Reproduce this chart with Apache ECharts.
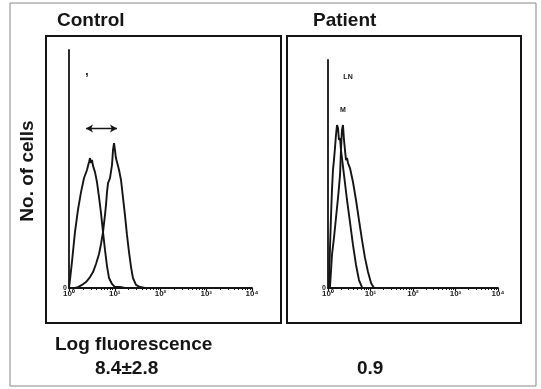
<!DOCTYPE html>
<html>
<head>
<meta charset="utf-8">
<script src="https://cdn.jsdelivr.net/npm/echarts@6/dist/echarts.min.js"></script>
<style>
html, body { margin: 0; padding: 0; background: #fff; }
#chart { width: 541px; height: 389px; }
</style>
</head>
<body>
<div id="chart"></div>
<script>
// log axis tick labels (10^0 .. 10^4)
var tickLabels = ['10\u2070', '10\u00b9', '10\u00b2', '10\u00b3', '10\u2074'];
var panelTitles = ['Control', 'Patient'];
var panelValues = ['8.4\u00b12.8', '0.9'];

// Control panel - left peak
var ctrlAX = [1.0, 1.05, 1.16, 1.35, 1.57, 1.83, 2.13, 2.47, 2.74, 2.88, 3.02, 3.18, 3.35, 3.70, 4.09, 4.53, 5.01, 5.54, 6.12, 6.77, 7.49, 8.71, 10.1, 13.0, 16.7];
var ctrlAY = [0, 3.4, 10.9, 23.5, 32.8, 40.3, 46.2, 49.6, 52.9, 54.6, 52.5, 53.8, 51.3, 48.7, 44.5, 38.2, 31.5, 23.5, 16.0, 9.2, 4.2, 1.7, 0.4, 0.4, 0];
// Control panel - right peak
var ctrlBX = [1.35, 1.57, 1.92, 2.35, 2.88, 3.35, 3.89, 4.53, 5.01, 5.54, 6.12, 6.44, 6.77, 7.13, 7.87, 8.71, 9.16, 9.64, 10.1, 10.6, 11.2, 12.4, 13.7, 15.1, 16.7, 18.5, 20.5, 22.7, 25.0, 29.1, 35.7, 45.8];
var ctrlBY = [0, 0.4, 1.3, 2.5, 4.6, 6.7, 10.1, 14.3, 18.5, 23.5, 30.7, 34.9, 40.3, 44.1, 46.2, 51.7, 58.0, 60.9, 58.0, 54.6, 52.9, 49.6, 45.4, 38.2, 30.7, 22.3, 15.1, 8.8, 4.2, 1.3, 0.4, 0];

// Patient panel - left peak
var patAX = [1.05, 1.11, 1.18, 1.24, 1.31, 1.38, 1.46, 1.54, 1.63, 1.72, 1.81, 1.92, 2.02, 2.38, 2.80, 3.29, 3.87, 4.56, 5.36, 6.31];
var patAY = [0, 16.7, 32.0, 43.0, 51.8, 56.1, 61.4, 67.1, 71.5, 70.2, 64.9, 65.8, 60.5, 49.6, 38.6, 28.9, 18.9, 10.1, 3.5, 0.4];
// Patient panel - right peak
var patBX = [1.11, 1.18, 1.24, 1.38, 1.54, 1.72, 1.92, 2.02, 2.13, 2.25, 2.38, 2.51, 2.65, 2.80, 2.96, 3.29, 3.87, 4.56, 5.36, 6.31, 7.42, 8.74, 10.3, 12.1];
var patBY = [0, 7.9, 14.5, 21.9, 30.7, 39.5, 49.6, 60.5, 69.3, 71.5, 64.9, 60.5, 56.1, 57.0, 54.8, 52.6, 46.5, 38.6, 29.8, 21.1, 13.2, 7.0, 2.2, 0];

function pairs(xs, ys) {
    return xs.map(function (x, i) { return [x, ys[i]]; });
}

var ink = '#151515';
var font = '"Liberation Sans", Arial, sans-serif';

function xAxisFor(idx) {
    return {
        type: 'log', logBase: 10, min: 1, max: 10000, gridIndex: idx,
        axisLine: { lineStyle: { color: ink, width: 1.8 } },
        axisTick: { show: true, length: 3, lineStyle: { color: ink, width: 1.2 } },
        minorTick: { show: true, splitNumber: 9, length: 2, lineStyle: { color: ink } },
        splitLine: { show: false },
        axisLabel: {
            margin: 2, fontSize: 8, fontWeight: 'bold', color: '#222', fontFamily: font,
            formatter: function (v) { return tickLabels[Math.round(Math.log10(v))]; }
        }
    };
}
function yAxisFor(idx) {
    return {
        type: 'value', min: 0, max: 100, interval: 100, gridIndex: idx,
        axisLine: { show: true, lineStyle: { color: ink, width: 1.8 } },
        axisTick: { show: false },
        splitLine: { show: false },
        axisLabel: {
            margin: 2, fontSize: 7, fontWeight: 'bold', color: '#222', fontFamily: font,
            formatter: function (v) { return v === 0 ? '0' : ''; }
        }
    };
}
function curve(idx, data, extra) {
    var s = {
        type: 'line', xAxisIndex: idx, yAxisIndex: idx, data: data,
        showSymbol: false, symbol: 'none',
        lineStyle: { color: ink, width: 1.9 }
    };
    for (var k in extra) s[k] = extra[k];
    return s;
}
function tag(x, y, txt, size) {
    return {
        coord: [x, y], symbol: 'circle', symbolSize: 1,
        itemStyle: { color: 'rgba(0,0,0,0)' },
        label: { show: true, position: 'inside', formatter: txt, fontSize: size, fontWeight: 'bold', color: ink, fontFamily: font }
    };
}

var myChart = echarts.init(document.getElementById('chart'));
var option = {
    animation: false,
    backgroundColor: '#fff',
    grid: [
        { left: 69, top: 50, width: 183, height: 238 },
        { left: 328, top: 60, width: 170, height: 228 }
    ],
    xAxis: [xAxisFor(0), xAxisFor(1)],
    yAxis: [yAxisFor(0), yAxisFor(1)],
    series: [
        curve(0, pairs(ctrlAX, ctrlAY), {
            markPoint: { silent: true, data: [tag(2.47, 91, ',', 12)] }
        }),
        curve(0, pairs(ctrlBX, ctrlBY), {
            markLine: {
                silent: true, symbol: ['arrow', 'arrow'], symbolSize: [6, 7],
                lineStyle: { color: ink, width: 1.3, type: 'solid' },
                label: { show: false },
                data: [[{ coord: [2.35, 67] }, { coord: [11.2, 67] }]]
            }
        }),
        curve(1, pairs(patAX, patAY), {
            markPoint: { silent: true, data: [tag(2.25, 78, 'M', 7)] }
        }),
        curve(1, pairs(patBX, patBY), {
            markPoint: { silent: true, data: [tag(2.96, 92.5, 'LN', 7)] }
        })
    ],
    graphic: [
        { type: 'rect', shape: { x: 10, y: 3, width: 526, height: 383 }, style: { fill: 'none', stroke: '#888', lineWidth: 1 } },
        { type: 'rect', shape: { x: 46, y: 36, width: 235, height: 287 }, style: { fill: 'none', stroke: ink, lineWidth: 2 } },
        { type: 'rect', shape: { x: 287, y: 36, width: 234, height: 287 }, style: { fill: 'none', stroke: ink, lineWidth: 2 } },
        { type: 'text', x: 57, y: 21, style: { text: panelTitles[0], font: 'bold 19px ' + font, fill: ink, textVerticalAlign: 'middle' } },
        { type: 'text', x: 313, y: 21, style: { text: panelTitles[1], font: 'bold 19px ' + font, fill: ink, textVerticalAlign: 'middle' } },
        { type: 'text', x: 28, y: 171, rotation: Math.PI / 2, style: { text: 'No. of cells', font: 'bold 19px ' + font, fill: ink, textAlign: 'center', textVerticalAlign: 'middle' } },
        { type: 'text', x: 55, y: 345, style: { text: 'Log fluorescence', font: 'bold 19px ' + font, fill: ink, textVerticalAlign: 'middle' } },
        { type: 'text', x: 95, y: 369, style: { text: panelValues[0], font: 'bold 19px ' + font, fill: ink, textVerticalAlign: 'middle' } },
        { type: 'text', x: 357, y: 369, style: { text: panelValues[1], font: 'bold 19px ' + font, fill: ink, textVerticalAlign: 'middle' } }
    ]
};
myChart.setOption(option);
</script>
</body>
</html>
